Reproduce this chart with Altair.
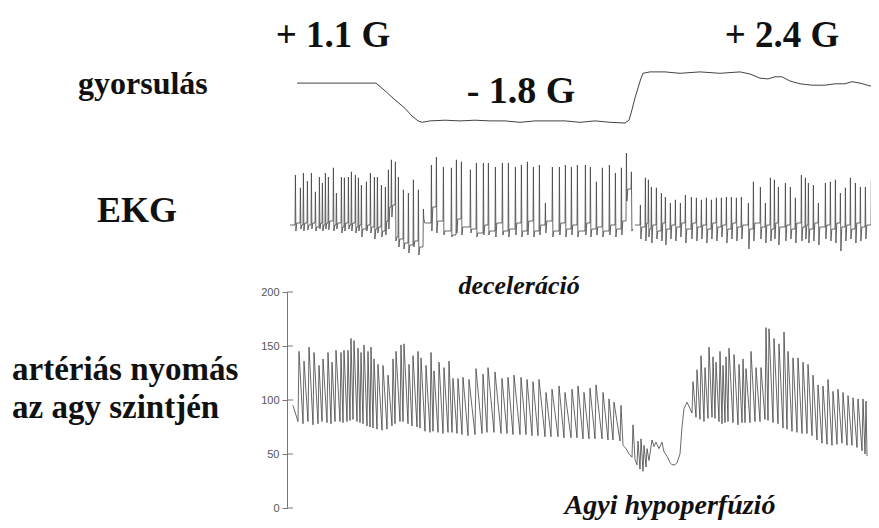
import altair as alt
import pandas as pd

# ---------------- data (time in s, 20 px per s) ----------------
# acceleration signal (arbitrary units)
acc_t = [0.50, 1.65, 3.15, 4.45, 4.90, 5.40, 5.90, 6.25, 6.55, 6.75, 7.15, 7.90, 8.65, 9.40,
         10.15, 10.90, 11.65, 12.40, 13.15, 13.90, 14.65, 15.40, 16.15, 16.90, 17.10, 17.25,
         17.40, 17.55, 17.70, 17.80, 18.15, 18.90, 19.65, 20.65, 21.65, 22.65, 23.15, 23.65,
         24.05, 24.40, 24.75, 25.15, 25.65, 26.25, 26.90, 27.40, 27.90, 28.25, 28.65, 29.15, 29.60]
acc_v = [67, 67, 67, 67, 56, 43, 31, 20, 13, 11, 13, 14, 13, 14,
         13, 13, 11, 13, 13, 13, 11, 13, 11, 10, 14, 29,
         46, 60, 74, 81, 83, 83, 81, 83, 81, 83, 80, 74,
         73, 76, 76, 70, 66, 64, 64, 66, 66, 69, 67, 63, 61]

# ECG beats: time, R peak, S trough, level after beat (mV), segment
ecg_t = [0.40, 0.65, 0.80, 1.00, 1.20, 1.40, 1.60, 1.75, 1.90, 2.05, 2.30, 2.45, 2.70, 2.85,
         3.05, 3.20, 3.40, 3.55, 3.70, 3.95, 4.15, 4.35, 4.50, 4.70, 4.90, 5.05, 5.20, 5.40,
         5.55, 5.80, 6.05, 6.30, 6.55, 6.80,
         7.20, 7.45, 7.80, 8.20, 8.45, 8.70, 9.15, 9.45, 9.80, 10.05, 10.40, 10.75, 11.05,
         11.40, 11.70, 12.00, 12.30, 12.60, 12.90, 13.25, 13.60, 13.90, 14.20, 14.50, 14.90,
         15.15, 15.45, 15.75, 16.10, 16.40, 16.70, 16.95, 17.20,
         17.65, 17.90, 18.05, 18.20, 18.45, 18.70, 18.90, 19.15, 19.40, 19.65, 19.90, 20.20,
         20.45, 20.70, 20.95, 21.20, 21.45, 21.70, 21.95, 22.20, 22.45, 22.70, 23.05, 23.30,
         23.65, 23.90, 24.15, 24.35, 24.55, 24.90, 25.15, 25.40, 25.70, 25.90, 26.05, 26.30,
         26.55, 26.90, 27.15, 27.40, 27.65, 27.90, 28.15, 28.40, 28.65, 28.90, 29.20, 29.45]
ecg_r = [1.25, 0.93, 1.30, 1.10, 1.30, 0.83, 1.20, 1.05, 1.30, 1.20, 1.43, 0.80, 1.20, 1.18,
         1.20, 1.33, 1.25, 1.18, 1.00, 1.08, 1.30, 1.20, 1.20, 1.00, 0.95, 1.38, 1.63, 1.58,
         1.20, 0.88, 0.80, 1.13, 0.88, 0.40,
         1.50, 1.70, 1.45, 1.43, 1.63, 1.58, 1.38, 1.55, 1.55, 1.55, 1.45, 1.55, 1.55,
         1.45, 1.50, 1.58, 1.45, 1.50, 0.55, 1.45, 1.45, 1.50, 1.45, 1.50, 1.50,
         1.45, 1.08, 1.43, 1.50, 1.30, 1.43, 1.80, 1.33,
         0.50, 1.18, 1.13, 0.95, 0.93, 0.80, 0.70, 0.55, 0.63, 0.55, 0.75, 0.70,
         0.68, 0.63, 0.68, 0.63, 0.68, 0.68, 0.70, 0.70, 0.68, 0.70, 0.55, 1.08,
         0.95, 0.55, 1.18, 1.13, 0.95, 1.05, 0.95, 0.68, 1.25, 1.18, 1.05, 1.00,
         0.55, 1.05, 1.08, 1.13, 0.80, 0.93, 1.18, 1.05, 0.95, 0.95, 1.13, 1.05]
ecg_s = [-0.15, -0.10, -0.15, -0.12, -0.10, -0.15, -0.10, -0.15, -0.10, -0.12, -0.15, -0.10, -0.20, -0.15,
         -0.10, -0.15, -0.20, -0.15, -0.30, -0.15, -0.20, -0.35, -0.20, -0.30, -0.25, -0.10, 0.20, -0.40,
         -0.55, -0.60, -0.70, -0.55, -0.75, 0.15,
         -0.15, -0.20, -0.25, -0.30, -0.20, -0.25, -0.20, -0.30, -0.25, -0.25, -0.30, -0.25, -0.30,
         -0.25, -0.30, -0.25, -0.30, -0.25, -0.20, -0.30, -0.25, -0.30, -0.25, -0.30, -0.25,
         -0.30, -0.25, -0.30, -0.25, -0.30, -0.25, 0.60, -0.15,
         -0.35, -0.40, -0.30, -0.45, -0.35, -0.40, -0.50, -0.35, -0.40, -0.30, -0.45, -0.35,
         -0.40, -0.35, -0.45, -0.35, -0.40, -0.30, -0.45, -0.35, -0.40, -0.35, -0.60, -0.40,
         -0.35, -0.45, -0.40, -0.35, -0.50, -0.40, -0.35, -0.45, -0.40, -0.35, -0.45, -0.40,
         -0.50, -0.35, -0.40, -0.45, -0.65, -0.40, -0.35, -0.45, -0.40, -0.35, -0.45, -0.40]
ecg_b = [0.05, 0.00, 0.05, 0.00, 0.05, -0.05, 0.05, 0.00, 0.05, 0.10, 0.00, 0.05, -0.05, 0.05,
         0.00, 0.05, -0.05, 0.00, -0.10, 0.00, -0.05, -0.10, -0.05, -0.15, 0.10, 0.45, 0.50, -0.30,
         -0.35, -0.45, -0.50, -0.40, -0.55, 0.05,
         0.45, 0.10, -0.15, -0.25, 0.15, -0.05, -0.10, -0.20, 0.00, -0.15, 0.05, -0.15, -0.10,
         0.05, -0.15, 0.10, -0.15, 0.00, 0.10, -0.15, 0.05, -0.10, 0.00, -0.15, 0.05,
         -0.10, -0.05, -0.15, 0.00, -0.10, 0.10, 0.90, -0.10,
         -0.05, 0.05, -0.10, 0.00, -0.15, 0.05, -0.10, 0.00, -0.05, 0.05, -0.10, 0.05,
         -0.05, 0.00, -0.10, 0.05, -0.05, 0.00, -0.10, 0.05, -0.05, 0.00, -0.10, 0.05,
         -0.05, 0.00, -0.10, 0.05, -0.05, 0.00, -0.10, 0.05, -0.05, 0.00, -0.10, 0.05,
         -0.05, 0.00, -0.10, 0.05, -0.05, 0.00, -0.10, 0.05, -0.05, 0.00, -0.10, 0.00]
ecg_seg = [0] * 67 + [1] * 48

# arterial pressure at brain level (mmHg): beats (time, systolic, diastolic)
p_beat_t = [0.55, 0.80, 1.05, 1.30, 1.55, 1.75, 2.00, 2.20, 2.40, 2.65, 2.80, 3.00, 3.15, 3.30,
            3.50, 3.65, 3.80, 4.00, 4.15, 4.30, 4.50, 4.75, 5.00, 5.25, 5.40, 5.65, 5.80, 6.05,
            6.25, 6.50, 6.65, 6.90, 7.15, 7.30, 7.55, 7.80, 8.05, 8.25, 8.50, 8.75, 9.05, 9.40,
            9.75, 10.00, 10.35, 10.70, 11.00, 11.30, 11.65, 11.95, 12.25, 12.55, 12.90, 13.20,
            13.55, 13.85, 14.20, 14.50, 14.80, 15.10, 15.40, 15.75, 16.05, 16.30, 16.65,
            20.25, 20.45, 20.65, 20.85, 21.05, 21.25, 21.40, 21.60, 21.75, 21.90, 22.05, 22.30,
            22.55, 22.75, 22.90, 23.15, 23.40, 23.65, 23.90, 24.05, 24.30, 24.55, 24.80, 25.00,
            25.25, 25.50, 25.75, 26.00, 26.25, 26.50, 26.75, 27.00, 27.25, 27.50, 27.75, 28.00,
            28.25, 28.50, 28.75, 28.90]
p_sys = [145, 136, 149, 144, 132, 138, 144, 135, 146, 144, 146, 146, 157, 155,
         148, 144, 151, 145, 149, 138, 133, 132, 123, 138, 145, 151, 152, 133,
         141, 145, 139, 132, 144, 127, 135, 130, 136, 120, 120, 121, 119, 129,
         124, 130, 126, 120, 121, 123, 121, 119, 117, 119, 107, 110,
         113, 107, 110, 113, 107, 111, 114, 107, 101, 98, 95,
         117, 128, 141, 130, 149, 140, 135, 145, 132, 140, 148, 142,
         133, 138, 129, 145, 130, 130, 167, 166, 157, 152, 163, 145,
         139, 139, 135, 133, 123, 114, 113, 119, 108, 110, 107, 104,
         102, 101, 101, 99]
p_dia = [80, 78, 80, 77, 78, 80, 79, 78, 80, 80, 79, 80, 81, 82,
         80, 79, 78, 76, 75, 74, 73, 72, 73, 76, 78, 80, 80, 78,
         76, 75, 74, 71, 70, 71, 70, 69, 70, 70, 69, 68, 67, 68,
         69, 70, 70, 69, 69, 68, 68, 68, 67, 67, 66, 66,
         66, 65, 65, 65, 64, 64, 64, 64, 63, 63, 62,
         88, 84, 82, 80, 83, 84, 83, 80, 78, 79, 80, 79,
         77, 79, 79, 79, 80, 80, 82, 81, 79, 78, 74, 73,
         71, 70, 69, 69, 67, 63, 60, 59, 58, 59, 60, 58,
         58, 56, 53, 50]
# hypoperfusion dip (raw trace)
p_dip_t = [16.80, 16.95, 17.10, 17.25, 17.30, 17.40, 17.50, 17.55, 17.65, 17.70, 17.80, 17.85,
           17.95, 18.00, 18.10, 18.25, 18.35, 18.45, 18.60, 18.75, 18.85, 19.00, 19.15, 19.25,
           19.40, 19.50, 19.65, 19.75, 19.85, 20.00]
p_dip_v = [58, 55, 50, 47, 77, 45, 40, 62, 36, 64, 34, 58,
           38, 55, 44, 63, 57, 61, 55, 61, 52, 48, 42, 40,
           40, 42, 50, 75, 92, 98]
p_start = (0.30, 95)
p_end = (29.00, 48)
p_ticks = [0, 50, 100, 150, 200]

# annotation texts
lbl_top = ["+ 1.1 G", "+ 2.4 G", "- 1.8  G"]
lbl_left = ["gyorsulás", "EKG", "artériás nyomás", "az agy szintjén"]
lbl_italic = ["deceleráció", "Agyi hypoperfúzió"]

# ---------------- build tables ----------------
acc_df = pd.DataFrame({"t": acc_t, "v": acc_v})

ecg_rows = []
prev_b, prev_seg = 0.0, None
for t, r, s, b, g in zip(ecg_t, ecg_r, ecg_s, ecg_b, ecg_seg):
    if g != prev_seg:
        prev_b = 0.0
        ecg_rows.append({"t": t - 0.25, "mv": prev_b, "seg": g})
    ecg_rows += [{"t": t, "mv": prev_b, "seg": g},
                 {"t": t + 0.02, "mv": r, "seg": g},
                 {"t": t + 0.045, "mv": s, "seg": g},
                 {"t": t + 0.09, "mv": b, "seg": g}]
    prev_b, prev_seg = b, g
ecg_df = pd.DataFrame(ecg_rows)

p_rows = [{"t": p_start[0], "p": p_start[1]}]
dip_done = False
for t, sy, di in zip(p_beat_t, p_sys, p_dia):
    if t > 20 and not dip_done:
        p_rows += [{"t": a, "p": b} for a, b in zip(p_dip_t, p_dip_v)]
        dip_done = True
    p_rows += [{"t": t, "p": di}, {"t": t + 0.05, "p": sy}]
p_rows.append({"t": p_end[0], "p": p_end[1]})
p_df = pd.DataFrame(p_rows)
p_df["i"] = range(len(p_df))

tick_df = pd.DataFrame({"p": p_ticks})

# ---------------- chart ----------------
W, H = 584, 512
xs = alt.Scale(domain=[0, 29.2], range=[0, W])

acc = alt.Chart(acc_df).mark_line(color="#444444", strokeWidth=1.0).encode(
    x=alt.X("t:Q", scale=xs, axis=None),
    y=alt.Y("v:Q", scale=alt.Scale(domain=[0, 100], range=[122, 52]), axis=None),
)

ecg = alt.Chart(ecg_df).mark_line(color="#444444", strokeWidth=0.8).encode(
    x=alt.X("t:Q", scale=xs, axis=None),
    y=alt.Y("mv:Q", scale=alt.Scale(domain=[-1, 2.5], range=[257, 117]), axis=None),
    detail="seg:N",
)

pscale = alt.Scale(domain=[0, 200], range=[500, 284])
press = alt.Chart(p_df).mark_line(color="#444444", strokeWidth=0.8).encode(
    x=alt.X("t:Q", scale=xs, axis=None),
    y=alt.Y("p:Q", scale=pscale, axis=alt.Axis(
        values=p_ticks, title=None, grid=False, domainColor="#777", tickColor="#777",
        tickSize=5, labelColor="#555", labelFontSize=11, labelPadding=3)),
    order="i:Q",
)

stubs = alt.Chart(tick_df).mark_rule(color="#777").encode(
    x=alt.value(0), x2=alt.value(6),
    y=alt.Y("p:Q", scale=pscale, axis=None),
)


def label(text, x, y, size, align="left", italic=False):
    return alt.Chart(pd.DataFrame({"s": [text]})).mark_text(
        font="Liberation Serif", fontWeight="bold", fontSize=size, align=align,
        baseline="alphabetic", color="#111", fontStyle="italic" if italic else "normal",
    ).encode(text="s:N", x=alt.value(x), y=alt.value(y))


texts = [
    label(lbl_top[0], 46, 39, 37, "center"),
    label(lbl_top[1], 495, 39, 37, "center"),
    label(lbl_top[2], 234, 95, 38, "center"),
    label(lbl_left[0], -209, 86, 32),
    label(lbl_left[1], -190, 214, 36),
    label(lbl_italic[0], 232, 286, 26, "center", True),
    label(lbl_left[2], -275, 372, 33),
    label(lbl_left[3], -275, 410, 33),
    label(lbl_italic[1], 383, 506, 28, "center", True),
]

chart = alt.layer(acc, ecg, press, stubs, *texts).resolve_scale(y="independent").properties(
    width=W, height=H, autosize="none",
    padding={"left": 279, "top": 0, "right": 0, "bottom": 0},
).configure_view(stroke=None).configure_text(font="Liberation Serif")

chart.save("out.html", embed_options={"renderer": "svg", "actions": False})
